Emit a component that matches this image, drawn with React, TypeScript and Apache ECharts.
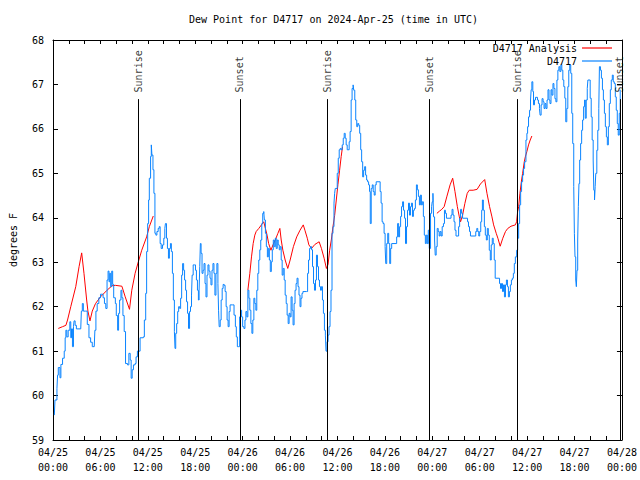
import React, { useEffect, useRef } from "react";
import * as echarts from "echarts";

// ---- Data (hours since 2024-04-25 00:00 UTC) ----
const chartTitle = "Dew Point for D4717 on 2024-Apr-25 (time in UTC)";
const yAxisName = "degrees F";

const tickDays = ["04/25", "04/25", "04/25", "04/25", "04/26", "04/26", "04/26", "04/26", "04/27", "04/27", "04/27", "04/27", "04/28"];
const tickTimes = ["00:00", "06:00", "12:00", "18:00", "00:00", "06:00", "12:00", "18:00", "00:00", "06:00", "12:00", "18:00", "00:00"];

const eventHours = [10.81, 23.66, 34.72, 47.62, 58.72, 71.74];
const eventNames = ["Sunrise", "Sunset", "Sunrise", "Sunset", "Sunrise", "Sunset"];

// Analysis series (null = gap)
const analysisHours = [
  0.67, 1.21, 1.63, 1.84, 2.25, 2.88, 3.3, 3.63, 3.92, 4.26, 4.42, 4.68, 4.97, 5.38, 6.01, 6.84, 7.47, 7.89, 8.72, 9.14, 9.68, 9.97, 10.39, 10.8, 11.23, 11.85, 12.19, 12.69,
  18,
  24.66, 24.91, 25.12, 25.33, 25.54, 25.71, 26.04, 26.38, 26.67, 26.88, 27.09, 27.29, 27.58, 27.84, 28.13, 28.46, 28.71, 28.88, 29.09, 29.38, 29.71, 30.01, 30.42, 30.84, 31.26, 31.67, 31.88, 32.18, 32.38, 32.72, 33.14, 33.68, 33.97, 34.31, 34.6, 34.81, 35.01, 35.22, 35.43, 35.64, 35.85, 36.06, 36.27, 36.47, 36.64,
  42,
  48.58, 48.91, 49.2, 49.5, 49.83, 50.25, 50.58, 50.87, 51.17, 51.42, 51.58, 51.83, 52.12, 52.42, 52.67, 53.17, 53.67, 54.09, 54.63, 54.92, 55.25, 55.55, 55.76, 56.09, 56.3, 56.59, 56.92, 57.26, 57.55, 57.96, 58.51, 58.67, 58.8, 58.93, 59.09, 59.3, 59.43, 59.64, 59.77, 59.97, 60.18, 60.39, 60.6,
];
const analysisDew = [
  61.51, 61.55, 61.58, 61.7, 62.0, 62.45, 62.9, 63.21, 62.75, 62.15, 61.9, 61.68, 61.9, 62.07, 62.22, 62.37, 62.47, 62.48, 62.46, 62.22, 61.94, 62.37, 62.75, 63.01, 63.27, 63.57, 63.8, 64.04,
  null,
  62.37, 62.75, 63.12, 63.42, 63.61, 63.69, 63.76, 63.84, 63.91, 63.76, 63.61, 63.42, 63.27, 63.39, 63.5, 63.65, 63.76, 63.5, 63.27, 63.05, 62.86, 63.05, 63.35, 63.57, 63.72, 63.84, 63.72, 63.54, 63.39, 63.31, 63.4, 63.46, 63.31, 63.09, 62.86, 62.95, 63.27, 63.5, 63.8, 64.05, 64.4, 64.75, 65.07, 65.38, 65.6,
  null,
  64.1, 64.15, 64.19, 64.25, 64.47, 64.74, 64.89, 64.59, 64.25, 64.02, 63.91, 64.06, 64.32, 64.55, 64.62, 64.62, 64.64, 64.76, 64.86, 64.55, 64.25, 64.02, 63.84, 63.65, 63.54, 63.36, 63.54, 63.69, 63.76, 63.81, 63.84, 63.91, 64.14, 64.25, 64.55, 64.85, 65.0, 65.26, 65.37, 65.49, 65.64, 65.75, 65.84,
];

// Observed series (stepped)
const obsHours = [
  0.17, 0.25, 0.5, 0.58, 0.67, 0.88, 1.0, 1.21, 1.42, 1.54, 1.63, 1.75, 1.92, 2.13, 2.25, 2.34, 2.46, 2.59, 2.67, 2.8, 2.96, 3.51, 3.59, 3.71, 3.84, 4.13, 4.34, 4.55, 4.76, 4.97,
  5.22, 5.3, 5.43, 5.59, 5.8, 6.01, 6.22, 6.34, 6.51, 6.68, 6.84, 6.97, 7.09, 7.18, 7.3, 7.43, 7.55, 7.68, 7.89, 8.01, 8.18, 8.3, 8.43, 8.6, 8.72, 8.85, 9.01, 9.18, 9.43, 9.6,
  9.77, 9.89, 10.02, 10.18, 10.39, 10.51, 10.68, 11.02, 11.43, 11.56, 11.73, 11.85, 11.98, 12.1, 12.19,
  12.35, 12.44, 12.52, 12.65, 12.77, 12.9, 13.02, 13.15, 13.31, 13.44, 13.56, 13.69, 13.86, 14.02, 14.15, 14.23, 14.36, 14.48, 14.61, 14.73, 14.86, 14.98, 15.11, 15.23, 15.36, 15.44, 15.53, 15.65, 15.78, 15.9,
  16.03, 16.15, 16.28, 16.4, 16.53, 16.65, 16.78, 16.9, 17.03, 17.15, 17.28, 17.4, 17.53, 17.61, 17.74, 17.9, 18.03, 18.15, 18.28, 18.4, 18.49, 18.57, 18.65, 18.74, 18.86, 18.99, 19.11, 19.24, 19.36, 19.49,
  19.61, 19.74, 19.87, 19.99, 20.12, 20.24, 20.37, 20.49, 20.62, 20.74, 20.87, 20.95, 21.03, 21.16, 21.28, 21.41, 21.53, 21.66, 21.78, 21.91, 22.03, 22.16, 22.29, 22.41, 22.7, 22.91, 23.08, 23.2, 23.33, 23.5,
  23.62, 23.75, 23.87, 24.0,
  24.16, 24.29, 24.41, 24.54, 24.66, 24.79, 24.91, 25.04, 25.17, 25.29, 25.42, 25.54, 25.67, 25.79, 25.92, 26.04, 26.17, 26.29, 26.42, 26.54, 26.67, 26.75, 26.88, 27.0, 27.13, 27.25, 27.38, 27.5, 27.63, 27.75,
  27.88, 28.0, 28.13, 28.25, 28.38, 28.5, 28.63, 28.75, 28.88, 29.0, 29.13, 29.26, 29.38, 29.51, 29.63, 29.76, 29.88, 30.01, 30.13, 30.26, 30.38, 30.51, 30.63, 30.76, 30.88, 31.01, 31.13, 31.26, 31.38, 31.51,
  31.63, 32.09, 32.22, 32.34, 32.47, 32.59, 32.72, 32.84, 32.97, 33.09, 33.22, 33.34, 33.47, 33.6, 33.72, 33.85, 33.97, 34.1, 34.22, 34.35, 34.47, 34.55, 34.68, 34.81, 34.93, 35.06, 35.18,
  35.31, 35.43, 35.56, 35.64, 35.72, 35.97, 36.1, 36.22, 36.35, 36.47, 36.6, 36.73, 36.85, 36.98, 37.1, 37.23, 37.48, 37.6, 37.73, 37.85, 37.98, 38.06, 38.19, 38.31, 38.44, 38.56, 38.69, 38.81, 38.94, 39.06,
  39.19, 39.31, 39.44, 39.56, 39.69, 39.81, 39.94, 40.06, 40.15, 40.27, 40.4, 40.52, 40.65, 40.77, 40.9, 41.4, 41.52, 41.65, 41.77, 41.9, 42.03, 42.11, 42.23, 42.36, 42.48, 42.61, 42.73, 42.86, 43.49, 43.61,
  43.74, 43.86, 43.99, 44.11, 44.24, 44.36, 44.49, 44.61, 44.74, 44.86, 44.99, 45.11, 45.24, 45.36, 45.49, 45.61, 45.74, 45.86, 45.99, 46.11, 46.24, 46.37, 46.49, 46.62, 46.74, 46.87, 46.99, 47.12, 47.24, 47.37,
  47.49, 47.62,
  47.78, 47.91, 47.99, 48.08, 48.16, 48.29, 48.37, 48.49, 48.62, 48.75, 48.87, 48.99, 49.12, 49.25, 49.41, 49.54, 49.66, 49.79, 50.37, 50.5, 50.62, 50.75, 50.87, 51.0, 51.33, 51.46, 51.58, 51.71, 51.83, 52.46,
  52.58, 52.71, 52.83, 53.5, 53.63, 53.75, 53.88, 54.0, 54.13, 54.25, 54.34, 54.46, 54.59, 54.71, 54.84, 54.96, 55.09, 55.21, 55.34, 55.46, 55.59, 55.71, 55.84, 55.96, 56.51, 56.63, 56.76, 56.88, 57.01, 57.13,
  57.26, 57.38, 57.51, 57.63, 57.76, 57.88, 58.01, 58.13, 58.26, 58.38, 58.51, 58.68, 58.8, 58.93, 59.05, 59.18, 59.3, 59.43, 59.55, 59.68,
  59.85, 59.97, 60.06, 60.18, 60.31, 60.43, 60.51, 60.6, 60.72, 60.81, 60.93, 61.06, 61.31, 61.43, 61.56, 61.64, 61.77, 61.89, 62.02, 62.14, 62.27, 62.39, 62.52, 62.64, 62.77, 62.89, 63.02, 63.14, 63.27, 63.39,
  63.52, 63.64, 63.77, 63.89, 64.02, 64.14, 64.27, 64.39, 64.52, 64.64, 64.77, 64.89, 65.02, 65.15, 65.27, 65.4, 65.52, 65.65, 65.77, 65.9, 65.98, 66.06, 66.15, 66.23, 66.31, 66.4, 66.48, 66.56, 66.65, 66.77,
  66.9, 67.02, 67.15, 67.27, 67.36, 67.48, 67.61, 67.69, 67.98, 68.11, 68.23, 68.36, 68.44, 68.53, 68.61, 68.69, 68.82, 68.94, 69.07, 69.15, 69.28, 69.4, 69.53, 69.65, 69.78, 69.9, 70.03, 70.15, 70.28, 70.4,
  70.53, 70.65, 70.78, 70.9, 71.03, 71.16, 71.28, 71.41, 71.53, 71.66, 71.78,
];
const obsDew = [
  59.56, 59.9, 60.16, 60.46, 60.63, 60.4, 60.7, 60.84, 61.0, 61.3, 61.47, 61.32, 61.47, 61.66, 61.3, 61.5, 61.1, 61.55, 61.68, 61.58, 61.5, 61.5, 61.9, 62.07, 61.9, 61.9, 61.6, 61.3, 61.2, 61.1,
  61.1, 61.47, 61.9, 62.07, 62.2, 62.28, 62.28, 62.2, 62.07, 61.96, 62.6, 62.8, 62.56, 62.75, 62.45, 62.8, 62.5, 62.2, 62.07, 61.8, 61.47, 61.85, 62.15, 62.37, 62.2, 61.8, 61.44, 60.72, 60.69, 60.95,
  60.8, 60.39, 60.58, 60.69, 60.72, 60.87, 61.0, 61.3, 61.32, 61.7, 62.3, 63.24, 63.87, 64.4, 64.89,
  65.38, 65.64, 65.41, 65.08, 64.55, 63.65, 63.61, 63.69, 63.76, 63.8, 63.42, 63.31, 63.39, 63.54, 63.76, 63.87, 63.54, 63.31, 63.09, 63.31, 63.42, 63.24, 62.75, 62.15, 61.44, 61.06, 61.4, 61.62, 61.89, 62.0,
  61.96, 62.19, 62.71, 62.97, 62.82, 62.6, 62.37, 62.11, 61.85, 61.51, 61.89, 62.0, 62.26, 62.71, 62.94, 62.94, 62.82, 62.6, 62.37, 62.15, 62.37, 62.9, 63.42, 63.2, 62.75, 62.82, 62.97, 62.52, 62.22, 62.71,
  62.94, 62.8, 62.64, 62.49, 62.82, 62.97, 62.75, 62.26, 62.75, 62.97, 62.52, 61.92, 61.55, 61.7, 62.15, 62.41, 62.5, 62.48, 62.34, 62.0, 61.7, 61.55, 61.89, 62.04, 62.04, 61.81, 61.55, 61.32, 61.1, 61.1,
  61.77, 61.92, 61.77, 61.55,
  61.51, 61.7, 61.89, 61.77, 62.37, 62.19, 61.92, 61.62, 61.4, 61.7, 62.19, 62.07, 61.92, 62.37, 62.75, 63.05, 63.28, 63.5, 63.87, 64.1, 64.14, 63.95, 63.65, 63.35, 63.12, 63.31, 63.05, 62.79, 63.01, 63.28,
  63.5, 63.35, 63.54, 63.31, 63.5, 63.39, 63.28, 63.35, 63.05, 62.71, 62.86, 62.6, 62.26, 62.07, 61.81, 61.62, 61.85, 61.77, 62.22, 61.92, 61.59, 62.07, 62.37, 62.52, 62.64, 62.45, 62.26, 62.0, 62.19, 62.3,
  62.34, 62.34, 62.75, 63.05, 63.31, 63.35, 63.28, 62.9, 62.52, 62.37, 62.6, 63.16, 62.9, 62.6, 62.45, 62.37, 62.45, 62.15, 61.85, 61.47, 61.36, 61.0, 61.21, 61.36, 61.55, 61.89, 62.37,
  63.65, 63.8, 64.33, 64.55, 64.66, 65.0, 65.34, 65.53, 65.56, 65.53, 65.64, 65.79, 65.9, 65.79, 65.64, 65.53, 65.71, 65.94, 66.65, 66.91, 66.99, 66.87, 66.65, 66.2, 66.05, 66.12, 66.08, 65.9, 65.53, 65.26,
  64.92, 65.07, 65.15, 64.96, 64.85, 64.81, 64.74, 64.59, 63.87, 64.66, 64.74, 64.59, 64.51, 64.74, 64.81, 64.59, 64.33, 63.91, 63.87, 63.65, 63.35, 62.97, 63.42, 63.65, 63.42, 62.97, 63.31, 63.42, 63.57, 63.87,
  63.57, 63.8, 64.03, 64.25, 64.36, 64.17, 63.99, 63.42, 63.8, 64.17, 64.33, 64.06, 64.25, 64.33, 64.03, 64.17, 64.21, 64.4, 64.74, 64.63, 64.48, 64.29, 64.51, 64.29, 64.36, 64.03, 63.61, 63.42, 63.61, 63.42,
  63.72, 63.31,
  64.1, 64.25, 64.36, 64.55, 64.02, 63.5, 63.16, 63.35, 63.76, 63.69, 63.59, 63.69, 63.59, 63.8, 63.87, 64.17, 64.1, 63.99, 64.06, 64.19, 64.06, 63.91, 63.72, 63.59, 63.8, 63.99, 64.19, 64.1, 63.99, 63.91,
  63.8, 63.69, 63.59, 63.69, 63.76, 63.69, 63.59, 63.69, 63.91, 64.17, 64.4, 64.17, 63.8, 63.61, 63.5, 63.76, 63.61, 63.27, 63.05, 63.39, 63.54, 63.42, 63.05, 62.64, 62.52, 62.41, 62.52, 62.34, 62.49, 62.22,
  62.49, 62.6, 62.45, 62.22, 62.34, 62.49, 62.6, 62.64, 62.75, 62.97, 63.12, 63.27, 63.54, 63.87, 64.29, 64.59, 64.81, 64.96, 65.11, 65.26,
  65.75, 65.9, 66.05, 66.27, 66.42, 66.65, 66.88, 67.06, 66.84, 66.54, 66.65, 66.71, 66.65, 66.57, 66.46, 66.31, 66.54, 66.68, 66.61, 66.46, 66.57, 66.46, 66.65, 66.88, 66.65, 66.57, 66.88, 66.76, 67.02, 66.91,
  66.68, 66.61, 67.1, 67.32, 67.4, 67.29, 67.44, 67.32, 67.1, 66.95, 66.69, 66.16, 66.46, 66.95, 67.32, 67.44, 67.25, 66.35, 65.67, 64.7, 63.65, 63.12, 62.6, 62.45, 62.82, 63.5, 64.25, 64.77, 65.3, 65.67,
  65.97, 66.2, 66.5, 66.65, 66.24, 66.65, 66.91, 67.1, 66.69, 66.27, 65.75, 65.3, 64.62, 64.4, 64.7, 65.0, 65.52, 65.97, 66.46, 67.4, 67.32, 67.14, 66.88, 66.65, 66.35, 66.05, 65.82, 65.64, 66.05, 66.57,
  66.88, 67.1, 67.21, 67.06, 67.02, 66.72, 66.42, 66.12, 65.86, 66.35, 66.88,
];

const FONT = "DejaVu Sans Mono";
const RED = "#ff0000";
const BLUE = "#0a84ff";

export default function App() {
  const ref = useRef<HTMLDivElement>(null);

  useEffect(() => {
    if (!ref.current) return;
    const chart = echarts.init(ref.current, undefined, { renderer: "svg" });

    const analysisData = analysisHours.map((h, i) => [h, analysisDew[i] === null ? "-" : analysisDew[i]]);
    const obsData = obsHours.map((h, i) => [h, obsDew[i]]);
    const eventData = eventHours.map((h, i) => [h, 66.82, eventNames[i]]);

    const xLabel = (v: number) => {
      if (v % 6 !== 0) return "";
      const idx = v / 6;
      return tickDays[idx] + "\n" + tickTimes[idx];
    };

    const axisCommon = {
      axisLine: { show: true, onZero: false, lineStyle: { color: "#000", width: 1 } },
      splitLine: { show: false },
    };

    chart.setOption({
      animation: false,
      backgroundColor: "#ffffff",
      textStyle: { fontFamily: FONT, color: "#000" },
      title: {
        text: chartTitle,
        left: 184,
        top: 9,
        textStyle: { fontFamily: FONT, fontSize: 10, fontWeight: "normal", color: "#000" },
      },
      legend: [
        {
          data: ["D4717 Analysis"],
          right: 28,
          top: 43,
          align: "right",
          icon: "rect",
          itemWidth: 30,
          itemHeight: 1.2,
          padding: 0,
          textStyle: { fontFamily: FONT, fontSize: 10, color: "#000" },
        },
        {
          data: ["D4717"],
          right: 28,
          top: 56,
          align: "right",
          icon: "rect",
          itemWidth: 30,
          itemHeight: 1.2,
          padding: 0,
          textStyle: { fontFamily: FONT, fontSize: 10, color: "#000" },
        },
      ],
      grid: { left: 47, right: 18, top: 40, bottom: 40 },
      xAxis: [
        {
          type: "value",
          position: "bottom",
          min: 0,
          max: 72,
          interval: 2,
          ...axisCommon,
          axisTick: { show: true, inside: true, length: 4, lineStyle: { color: "#000" } },
          axisLabel: {
            formatter: xLabel,
            fontFamily: FONT,
            fontSize: 10,
            color: "#000",
            lineHeight: 15,
            margin: 5,
            showMinLabel: true,
            showMaxLabel: true,
          },
        },
        {
          type: "value",
          position: "top",
          min: 0,
          max: 72,
          interval: 2,
          ...axisCommon,
          axisTick: { show: true, inside: true, length: 4, lineStyle: { color: "#000" } },
          axisLabel: { show: false },
        },
      ],
      yAxis: [
        {
          type: "value",
          position: "left",
          min: 59,
          max: 68,
          interval: 1,
          ...axisCommon,
          name: yAxisName,
          nameLocation: "middle",
          nameGap: 35,
          nameTextStyle: { fontFamily: FONT, fontSize: 10, color: "#000" },
          axisTick: { show: true, inside: true, length: 5, lineStyle: { color: "#000" } },
          axisLabel: { fontFamily: FONT, fontSize: 10, color: "#000", margin: 9 },
        },
        {
          type: "value",
          position: "right",
          min: 59,
          max: 68,
          interval: 1,
          ...axisCommon,
          axisTick: { show: true, inside: true, length: 5, lineStyle: { color: "#000" } },
          axisLabel: { show: false },
        },
      ],
      series: [
        {
          name: "D4717 Analysis",
          type: "line",
          data: analysisData,
          symbol: "none",
          showSymbol: false,
          connectNulls: false,
          lineStyle: { color: RED, width: 1 },
          itemStyle: { color: RED },
          z: 2,
        },
        {
          name: "D4717",
          type: "line",
          step: "end",
          data: obsData,
          symbol: "none",
          showSymbol: false,
          lineStyle: { color: BLUE, width: 1 },
          itemStyle: { color: BLUE },
          z: 3,
        },
        {
          name: "events",
          type: "scatter",
          data: eventData,
          symbolSize: 0,
          silent: true,
          z: 4,
          label: {
            show: true,
            formatter: (p: any) => p.value[2],
            position: [0, 0],
            rotate: 90,
            align: "left",
            verticalAlign: "middle",
            fontFamily: FONT,
            fontSize: 10,
            color: "#000",
          },
          markLine: {
            silent: true,
            symbol: ["none", "none"],
            label: { show: false },
            lineStyle: { color: "#000", width: 1, type: "solid" },
            data: eventHours.map((h) => [{ coord: [h, 66.67] }, { coord: [h, 59] }]),
          },
        },
      ],
    });

    return () => chart.dispose();
  }, []);

  return (
    <div
      ref={ref}
      style={{ position: "absolute", left: 0, top: 0, width: 640, height: 480, background: "#fff" }}
    />
  );
}
